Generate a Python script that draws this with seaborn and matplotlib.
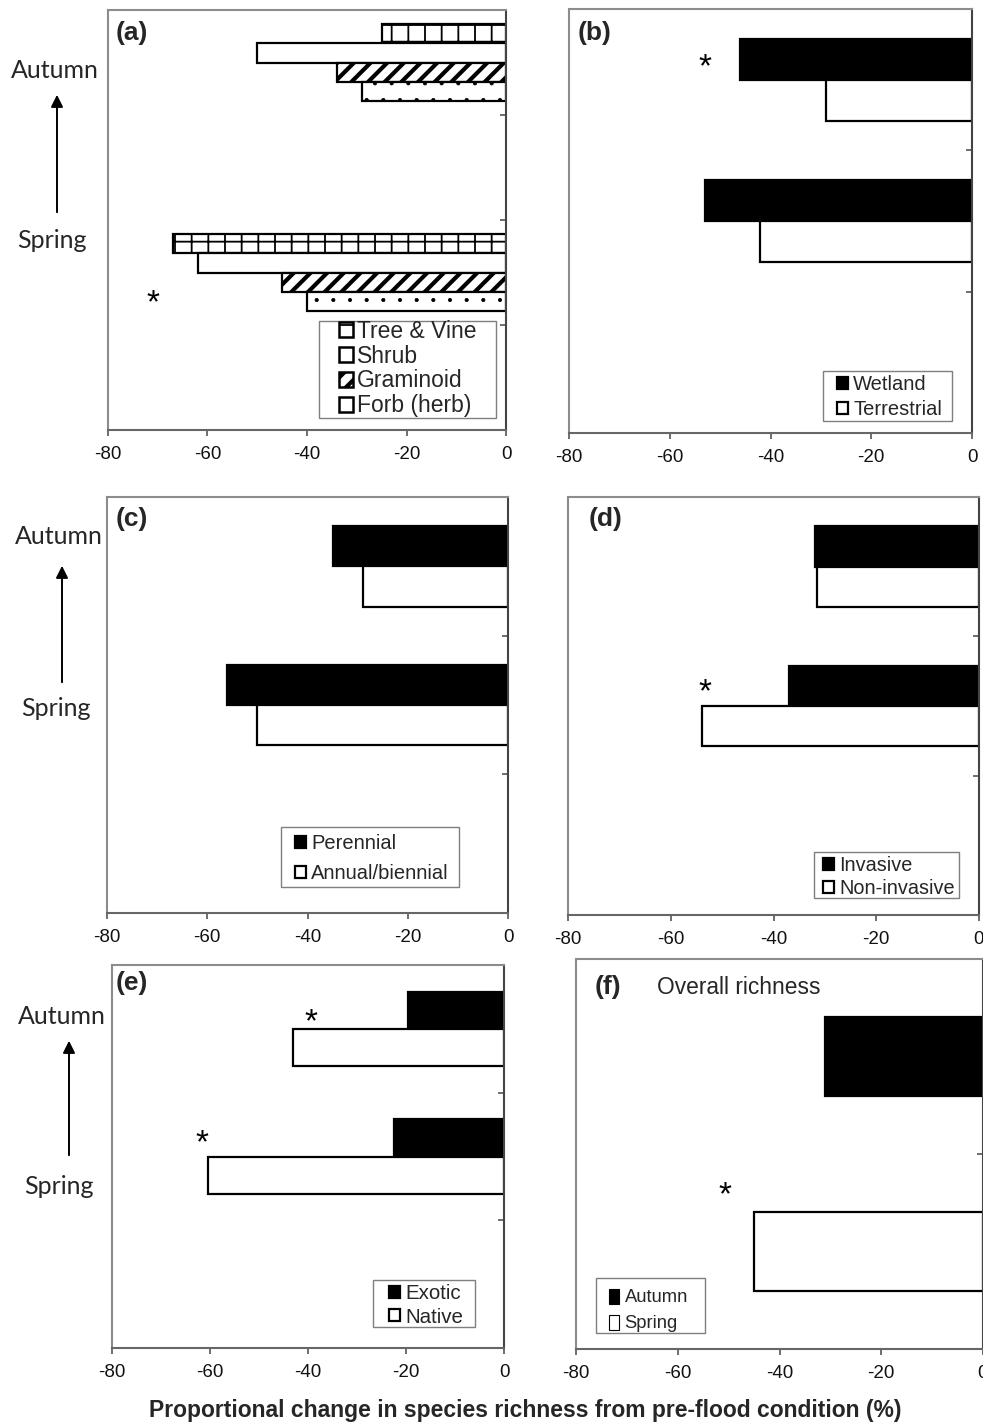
import numpy as np
import pandas as pd
import matplotlib
matplotlib.use("Agg")
import matplotlib.pyplot as plt
from matplotlib.patches import Patch, Rectangle, FancyArrowPatch
from matplotlib.transforms import offset_copy
import seaborn as sns

# ---------------- data ----------------
seasons = ["Autumn", "Spring"]

a_groups = ["Tree & Vine", "Shrub", "Graminoid", "Forb (herb)"]
a_autumn = [-25, -50, -34, -29]
a_spring = [-67, -62, -45, -40]

b_groups = ["Wetland", "Terrestrial"]
b_autumn = [-46, -29]
b_spring = [-53, -42]

c_groups = ["Perennial", "Annual/biennial"]
c_autumn = [-35, -29]
c_spring = [-56, -50]

d_groups = ["Invasive", "Non-invasive"]
d_autumn = [-32, -31.5]
d_spring = [-37, -54]

e_groups = ["Exotic", "Native"]
e_autumn = [-19.5, -43]
e_spring = [-22.5, -60.5]

f_groups = ["Autumn", "Spring"]
f_values = [-31, -45]

x_ticks = [-80, -60, -40, -20, 0]
x_label = "Proportional change in species richness from pre-flood condition (%)"

# ---------------- style ----------------
sns.set_style("white")
plt.rcParams["font.family"] = ["Liberation Sans", "DejaVu Sans"]
plt.rcParams["hatch.linewidth"] = 1.5

W, H = 983, 1423
fig = plt.figure(figsize=(W / 100, H / 100), dpi=100)


def fx(x):
    return x / W


def fy(y):
    return 1 - y / H


def make_ax(l, r, t, b):
    return fig.add_axes([fx(l), fy(b), (r - l) / W, (b - t) / H])


def long_df(groups, autumn, spring):
    rows = [("Autumn", g, v) for g, v in zip(groups, autumn)]
    rows += [("Spring", g, v) for g, v in zip(groups, spring)]
    return pd.DataFrame(rows, columns=["season", "group", "value"])


def style_axes(ax, nslots):
    ax.set_xlim(-80, 0)
    ax.set_ylim(nslots - 0.5, -0.5)
    ax.set_xticks(x_ticks)
    ax.set_xticklabels([str(t) for t in x_ticks])
    ax.yaxis.tick_right()
    ax.set_yticks([i + 0.5 for i in range(nslots - 1)])
    ax.set_yticklabels([])
    ax.tick_params(axis="y", direction="in", length=4.5, width=1.2,
                   color="#555555", right=True, left=False, labelright=False)
    ax.tick_params(axis="x", direction="out", length=4.5, width=1.2,
                   color="#555555", bottom=True, labelsize=13.5, pad=7,
                   labelcolor="#111111")
    for s in ["left", "top"]:
        ax.spines[s].set_color("#8c8c8c")
        ax.spines[s].set_linewidth(1.5)
    ax.spines["bottom"].set_color("#666666")
    ax.spines["bottom"].set_linewidth(1.5)
    ax.spines["right"].set_color("#444444")
    ax.spines["right"].set_linewidth(1.5)
    ax.set_xlabel("")
    ax.set_ylabel("")
    ax.set_facecolor("white")


def set_hlw(p, lw):
    if hasattr(p, "set_hatch_linewidth"):
        p.set_hatch_linewidth(lw)


def panel_label(x, y, s):
    fig.text(fx(x), fy(y), s, fontsize=19, fontweight="bold",
             ha="left", va="center")


def star(ax, x, y):
    tr = offset_copy(ax.transData, fig=fig, x=0, y=-5, units="dots")
    ax.text(x, y, "*", fontsize=24, ha="center", va="center", color="black",
            transform=tr)


def season_labels(xa, ya, xs, ys, xarr, y0, y1):
    fig.text(fx(xa), fy(ya), "Autumn", fontsize=18, family=["Lato", "DejaVu Sans"],
             ha="center", va="center")
    fig.text(fx(xs), fy(ys), "Spring", fontsize=18, family=["Lato", "DejaVu Sans"],
             ha="center", va="center")
    fig.add_artist(FancyArrowPatch(
        (fx(xarr), fy(y0)), (fx(xarr), fy(y1)), transform=fig.transFigure,
        arrowstyle="-|>", mutation_scale=18, lw=1.4, color="black"))


def legend(handles, labels, box, hx, rows, fs, hl, hh, tp=0.25):
    """box = (x0, y0, x1, y1) frame in px; hx = handle left px; rows = (first, last) row centres px"""
    fs_px = fs * 100 / 72
    n = len(labels)
    pitch = (rows[1] - rows[0]) / (n - 1)
    spacing = max(pitch / fs_px - 0.92, 0.0)
    ymid = (rows[0] + rows[1]) / 2 + 2
    lg = fig.legend(handles, labels, loc="center left",
                    bbox_to_anchor=(fx(hx), fy(ymid)), bbox_transform=fig.transFigure,
                    borderaxespad=0, borderpad=0, fontsize=fs, labelspacing=spacing,
                    handlelength=hl, handleheight=hh, handletextpad=tp,
                    frameon=False)
    x0, y0, x1, y1 = box
    fig.add_artist(Rectangle((fx(x0), fy(y1)), (x1 - x0) / W, (y1 - y0) / H,
                             transform=fig.transFigure, fill=False,
                             edgecolor="#7f7f7f", linewidth=1.0))
    return lg


bw = 1.6  # bar edge width

# ---------------- (a) ----------------
ax = make_ax(108, 506, 10, 430)
dfa = long_df(a_groups, a_autumn, a_spring)
order_a = ["Autumn", " ", "Spring", "  "]
sns.barplot(data=dfa, y="season", x="value", hue="group", order=order_a,
            hue_order=a_groups, orient="h", width=0.74,
            palette=["white"] * 4, edgecolor="black", linewidth=bw,
            legend=False, ax=ax, errorbar=None)
a_hatches = ["+", "", "//", "."]
a_hlw = [1.3, 1.3, 3.0, 0.5]
for cont, h, lw in zip(ax.containers, a_hatches, a_hlw):
    for p in cont:
        p.set_hatch(h)
        set_hlw(p, lw)
style_axes(ax, 4)
star(ax, -71, 2.25)
panel_label(116, 33, "(a)")
season_labels(55, 70, 52, 240, 57, 215, 92)
ha = []
for h in ["-", "", "//", ""]:
    ha.append(Patch(facecolor="white", edgecolor="black", hatch=h, linewidth=1.8))
lg = legend(ha, a_groups, (319, 321, 496, 418), 339, (332, 401), 16.5, 0.6, 0.6, 0.17)
for p, lw in zip(lg.legend_handles, [1.3, 1.3, 3.0, 0.5]):
    set_hlw(p, lw)

pal2 = ["black", "white"]

# ---------------- (b) ----------------
ax = make_ax(569, 972, 9, 433)
dfb = long_df(b_groups, b_autumn, b_spring)
sns.barplot(data=dfb, y="season", x="value", hue="group",
            order=["Autumn", "Spring", " "], hue_order=b_groups, orient="h",
            width=0.58, palette=pal2, edgecolor="black", linewidth=bw,
            legend=False, ax=ax, errorbar=None)
style_axes(ax, 3)
star(ax, -53, -0.12)
panel_label(578, 33, "(b)")
legend([Patch(fc=c, ec="black", lw=1.6) for c in pal2], b_groups,
       (823, 371, 952, 421), 837, (383, 407), 14.5, 0.55, 0.55)

# ---------------- (c) ----------------
ax = make_ax(107, 508, 497, 913)
dfc = long_df(c_groups, c_autumn, c_spring)
sns.barplot(data=dfc, y="season", x="value", hue="group",
            order=["Autumn", "Spring", " "], hue_order=c_groups, orient="h",
            width=0.58, palette=pal2, edgecolor="black", linewidth=bw,
            legend=False, ax=ax, errorbar=None)
style_axes(ax, 3)
panel_label(116, 519, "(c)")
season_labels(59, 537, 56, 708, 62, 685, 563)
legend([Patch(fc=c, ec="black", lw=1.6) for c in pal2], c_groups,
       (281, 827, 459, 887), 295, (842, 871), 14.5, 0.55, 0.55)

# ---------------- (d) ----------------
ax = make_ax(568, 979, 497, 915)
dfd = long_df(d_groups, d_autumn, d_spring)
sns.barplot(data=dfd, y="season", x="value", hue="group",
            order=["Autumn", "Spring", " "], hue_order=d_groups, orient="h",
            width=0.58, palette=pal2, edgecolor="black", linewidth=bw,
            legend=False, ax=ax, errorbar=None)
style_axes(ax, 3)
star(ax, -53.3, 0.87)
panel_label(589, 519, "(d)")
legend([Patch(fc=c, ec="black", lw=1.6) for c in pal2], d_groups,
       (814, 852, 959, 898), 823, (864, 886), 14.3, 0.55, 0.55)

# ---------------- (e) ----------------
ax = make_ax(112, 504, 965, 1348)
dfe = long_df(e_groups, e_autumn, e_spring)
sns.barplot(data=dfe, y="season", x="value", hue="group",
            order=["Autumn", "Spring", " "], hue_order=e_groups, orient="h",
            width=0.58, palette=pal2, edgecolor="black", linewidth=bw,
            legend=False, ax=ax, errorbar=None)
style_axes(ax, 3)
star(ax, -39.4, -0.09)
star(ax, -61.6, 0.86)
panel_label(116, 983, "(e)")
season_labels(62, 1017, 59, 1187, 69, 1158, 1038)
legend([Patch(fc=c, ec="black", lw=1.6) for c in pal2], e_groups,
       (373, 1280, 475, 1327), 389, (1292, 1315), 14.8, 0.55, 0.55)

# ---------------- (f) ----------------
ax = make_ax(576, 983, 959, 1349)
dff = pd.DataFrame({"season": f_groups, "value": f_values})
sns.barplot(data=dff, y="season", x="value", hue="season",
            order=f_groups, hue_order=f_groups, orient="h", width=0.41,
            dodge=False, palette=pal2, edgecolor="black", linewidth=bw,
            legend=False, ax=ax, errorbar=None)
style_axes(ax, 2)
star(ax, -50.8, 0.69)
panel_label(595, 987, "(f)")
fig.text(fx(657), fy(987), "Overall richness", fontsize=16.4, ha="left", va="center")
legend([Patch(fc=c, ec="black", lw=0.8) for c in pal2], f_groups,
       (596, 1278, 705, 1333), 609, (1296, 1321), 13.2, 0.55, 0.9, 0.3)

fig.text(fx(525), fy(1410), x_label, fontsize=16.5, fontweight="bold",
         ha="center", va="center")

fig.savefig("out.png", dpi=100, facecolor="white")
